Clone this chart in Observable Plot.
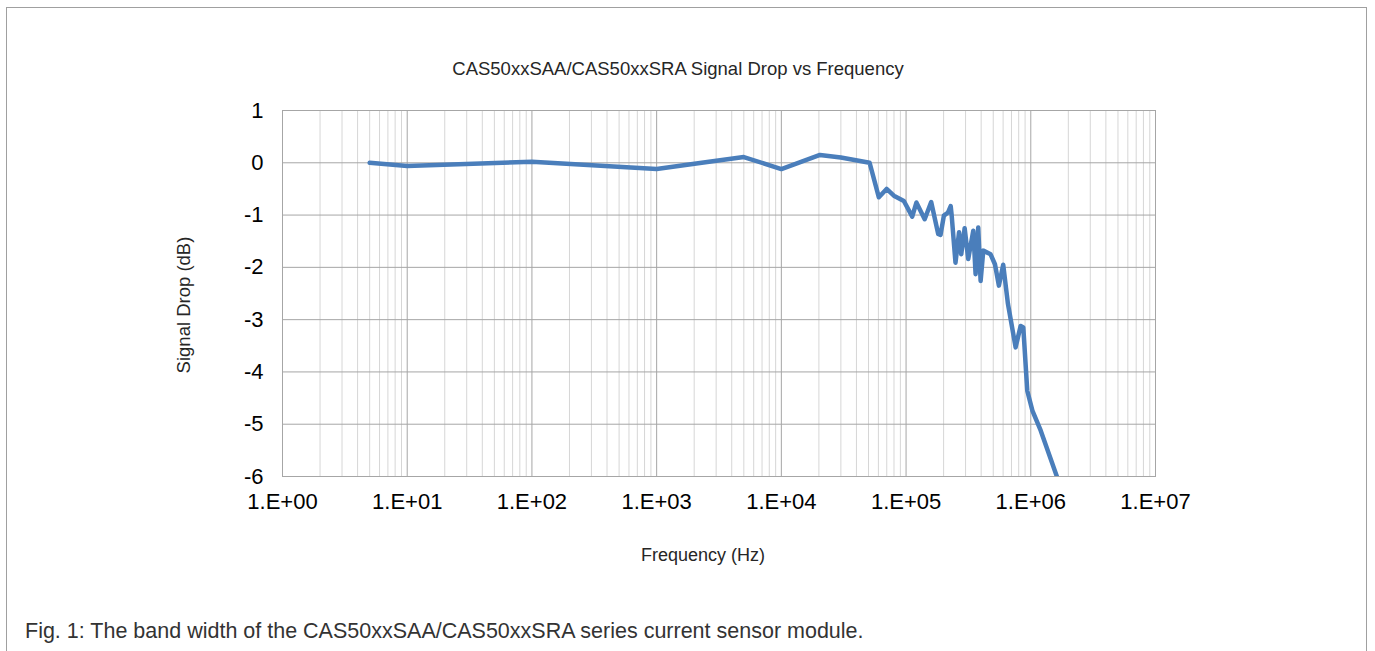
<!DOCTYPE html>
<html>
<head>
<meta charset="utf-8">
<script src="https://cdn.jsdelivr.net/npm/d3@7"></script>
<script src="https://cdn.jsdelivr.net/npm/@observablehq/plot@0.6"></script>
<style>
  html, body { margin: 0; padding: 0; background: #fff; }
  #wrap { position: relative; width: 1375px; height: 651px; overflow: hidden; font-family: "Liberation Sans", Arial, sans-serif; }
  #border { position: absolute; left: 6px; top: 7px; width: 1361px; height: 720px; border: 1px solid #a0a0a0; box-sizing: border-box; }
  #chart { position: absolute; left: 0; top: 0; }
  .lbl { position: absolute; white-space: nowrap; line-height: 1; }
  #title { left: 678px; top: 60px; transform: translateX(-50%); font-size: 18.5px; color: #262626; }
  #xlabel { left: 703px; top: 546px; transform: translateX(-50%); font-size: 18px; color: #262626; }
  #ylabel { left: 184px; top: 305px; transform: translate(-50%, -50%) rotate(-90deg); font-size: 18.5px; color: #262626; }
  #caption { left: 25px; top: 621px; font-size: 21.5px; color: #333; }
</style>
</head>
<body>
<div id="wrap">
  <div id="border"></div>
  <div id="chart"></div>
  <div class="lbl" id="title">CAS50xxSAA/CAS50xxSRA Signal Drop vs Frequency</div>
  <div class="lbl" id="ylabel">Signal Drop (dB)</div>
  <div class="lbl" id="xlabel">Frequency (Hz)</div>
  <div class="lbl" id="caption">Fig. 1: The band width of the CAS50xxSAA/CAS50xxSRA series current sensor module.</div>
</div>
<script>
// Frequency (Hz) and signal drop (dB)
const freq = [5, 10, 100, 1000, 2300, 5000, 10000, 20400, 30000, 51000,
  60500, 69800, 79800, 96000, 112000, 121000, 141000, 159000, 181000, 189000,
  201000, 217000, 228000, 232000, 249000, 266000, 277000, 295000, 315000, 346000,
  361000, 379000, 396000, 416000, 476000, 516000, 555000, 601000, 656000, 756000,
  829000, 871000, 937000, 1030000, 1200000, 1630000];
const drop = [0.0, -0.06, 0.02, -0.12, 0.0, 0.11, -0.12, 0.15, 0.1, 0.0,
  -0.66, -0.5, -0.63, -0.73, -1.03, -0.76, -1.08, -0.75, -1.36, -1.38,
  -1.01, -0.95, -0.83, -1.0, -1.91, -1.33, -1.75, -1.25, -1.84, -1.3,
  -2.13, -1.24, -2.26, -1.68, -1.75, -1.94, -2.35, -1.95, -2.7, -3.53,
  -3.12, -3.15, -4.36, -4.74, -5.12, -6.02];

// Axis tick values
const xTicks = [1, 10, 100, 1000, 10000, 100000, 1000000, 10000000];
const yTicks = [1, 0, -1, -2, -3, -4, -5, -6];
const minorMultipliers = [2, 3, 4, 5, 6, 7, 8, 9];

const minorTicks = xTicks.slice(0, -1).flatMap(d => minorMultipliers.map(m => d * m));
const data = freq.map((f, i) => ({f, v: drop[i]}));
const fmtX = d => "1.E+" + String(Math.round(Math.log10(d))).padStart(2, "0");

const chart = Plot.plot({
  width: 1375,
  height: 651,
  marginLeft: 282,
  marginRight: 220,
  marginTop: 110,
  marginBottom: 175,
  style: {fontFamily: "'Liberation Sans', Arial, sans-serif", background: "transparent", color: "#000"},
  x: {type: "log", domain: [1, 1e7]},
  y: {domain: [-6, 1]},
  marks: [
    Plot.ruleX(minorTicks, {stroke: "#d6d6d6", strokeWidth: 1}),
    Plot.ruleX(xTicks, {stroke: "#a6a6a6", strokeWidth: 1}),
    Plot.ruleY(yTicks, {stroke: "#a6a6a6", strokeWidth: 1}),
    Plot.frame({stroke: "#a6a6a6"}),
    Plot.line(data, {x: "f", y: "v", stroke: "#4a7ebb", strokeWidth: 4.5, strokeLinejoin: "round", clip: true}),
    Plot.axisX(xTicks, {tickSize: 0, tickPadding: 17, tickFormat: fmtX, fontSize: 22, label: null}),
    Plot.axisY(yTicks, {tickSize: 0, tickPadding: 19, tickFormat: d => String(d), fontSize: 22, label: null})
  ]
});
document.getElementById("chart").appendChild(chart);
</script>
</body>
</html>
